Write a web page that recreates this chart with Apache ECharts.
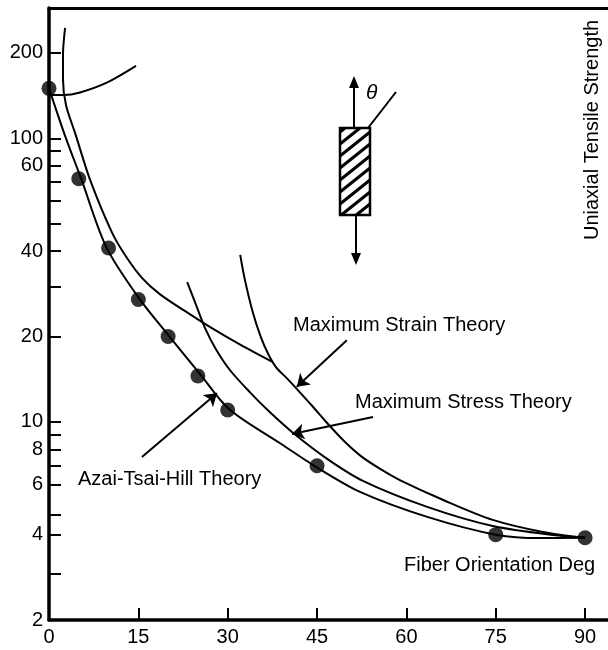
<!DOCTYPE html>
<html>
<head>
<meta charset="utf-8">
<script src="https://cdn.jsdelivr.net/npm/echarts@6/dist/echarts.min.js"></script>
<style>
  html, body { margin: 0; padding: 0; background: #fff; }
  #chart { width: 608px; height: 650px; }
</style>
</head>
<body>
<div id="chart"></div>
<script>
// Measured uniaxial tensile strength versus fibre angle (deg)
const testAngles   = [0, 5, 10, 15, 20, 25, 30, 45, 75, 90];
const testStrength = [150, 72, 41, 27, 20, 14.5, 11, 7, 4, 3.9];

// Azai-Tsai-Hill prediction
const tsaiHillAngles   = [0, 2.7, 5.4, 9.6, 15.1, 20.3, 25.5, 30.2, 38.8, 45, 52.2, 63.5, 75.2, 82.4, 90];
const tsaiHillStrength = [150, 102, 72, 41.4, 27.3, 19.9, 14.6, 11.1, 8.4, 6.9, 5.66, 4.62, 3.99, 3.89, 3.9];

// Longitudinal branch near 0 deg
const longAngles   = [0, 2.4, 5.2, 9.7, 14.6];
const longStrength = [142, 142, 145, 157, 180];

// Shear branch, running up towards 0 deg
const shearAngles   = [2.7, 2.35, 2.35, 2.85, 4.4, 6.9, 10.6, 13.1, 15.6, 18.6, 22.8, 27.0, 32.1, 37.4];
const shearStrength = [245, 197, 161, 131, 104, 71.3, 46.4, 37.8, 32.2, 28.2, 24.6, 21.6, 18.7, 16.3];

// Maximum strain theory (transverse branch)
const strainAngles   = [32.1, 32.9, 34.2, 35.6, 36.8, 38.1, 40.0, 41.6, 44.2, 46.7, 49.7, 52.55, 55.6, 58.9, 66.2, 74.5, 82.9, 90];
const strainStrength = [38.8, 31.6, 24.4, 19.8, 17.35, 15.6, 14.2, 13.06, 11.37, 9.9, 8.49, 7.52, 6.82, 6.23, 5.30, 4.51, 4.09, 3.9];

// Maximum stress theory (transverse branch)
const stressAngles   = [23.2, 24.7, 26.2, 28.0, 30.4, 33.75, 37.1, 41.0, 46.7, 52.7, 63.5, 74.5, 85.8, 90];
const stressStrength = [31.1, 25.8, 21.4, 18.07, 15.2, 12.7, 10.8, 9.13, 7.40, 6.19, 5.01, 4.29, 3.96, 3.9];

// Axis ticks and labels
const xTickValues  = [15, 30, 45, 60, 75, 90];
const xLabelValues = [0, 15, 30, 45, 60, 75, 90];
const yTickValues  = [200, 100, 90, 80, 70, 60, 50, 40, 30, 20, 10, 9, 8, 7, 6, 4.7, 4, 2.9];
const yLabelValues = [200, 100, 80, 40, 20, 10, 8, 6, 4, 2];
const yLabelTexts  = ['200', '100', '60', '40', '20', '10', '8', '6', '4', '2'];

// Callout arrows: [from angle, from strength, to angle, to strength]
const strainArrow   = [50.0, 19.4, 41.6, 13.3];
const stressArrow   = [54.4, 10.4, 40.8, 9.06];
const tsaiHillArrow = [15.6, 7.52, 28.2, 12.6];

const pairs = (xs, ys) => xs.map((x, i) => [x, ys[i]]);
const FONT = '"Liberation Sans", Arial, sans-serif';
const INK = '#000';

const curveStyle = { color: INK, width: 2 };
function curve(name, xs, ys, extra) {
  return Object.assign({
    name, type: 'line', data: pairs(xs, ys), smooth: 0.3,
    showSymbol: false, symbol: 'none', lineStyle: curveStyle, silent: true, z: 3
  }, extra || {});
}

function arrowLine(a) {
  return [{ coord: [a[0], a[1]] }, { coord: [a[2], a[3]] }];
}

// Specimen sketch: hatched coupon with load arrows and fibre-angle line
const box = { x: 340, y: 128, w: 30, h: 87 };
const hatch = [];
const slope = 0.8, step = 12;
for (let c = box.y + 4; c < box.y + box.h + slope * box.w; c += step) {
  const x0 = Math.max(box.x, box.x + (c - (box.y + box.h)) / slope);
  const x1 = Math.min(box.x + box.w, box.x + (c - box.y) / slope);
  if (x1 - x0 < 1) continue;
  hatch.push({
    type: 'line',
    shape: { x1: x0, y1: c - slope * (x0 - box.x), x2: x1, y2: c - slope * (x1 - box.x) },
    style: { stroke: INK, lineWidth: 3 }
  });
}

const specimen = [].concat(hatch, [
  { type: 'rect', shape: { x: box.x, y: box.y, width: box.w, height: box.h },
    style: { fill: 'none', stroke: INK, lineWidth: 2.5 } },
  { type: 'line', shape: { x1: 354, y1: box.y, x2: 354, y2: 86 }, style: { stroke: INK, lineWidth: 2 } },
  { type: 'polygon', shape: { points: [[349, 88], [359, 88], [354, 76]] }, style: { fill: INK } },
  { type: 'line', shape: { x1: 356, y1: box.y + box.h, x2: 356, y2: 256 }, style: { stroke: INK, lineWidth: 2 } },
  { type: 'polygon', shape: { points: [[351, 253], [361, 253], [356, 265]] }, style: { fill: INK } },
  { type: 'line', shape: { x1: 368, y1: box.y, x2: 396, y2: 92 }, style: { stroke: INK, lineWidth: 2 } },
  { type: 'text', x: 366, y: 93, style: { text: 'θ', fill: INK, font: 'italic 21px ' + FONT,
    textAlign: 'left', textVerticalAlign: 'middle' } }
]);

function label(text, x, y) {
  return { type: 'text', x, y, style: { text, fill: INK, font: '20px ' + FONT,
    textAlign: 'left', textVerticalAlign: 'middle' } };
}

const chart = echarts.init(document.getElementById('chart'), null, { renderer: 'canvas' });

chart.setOption({
  animation: false,
  backgroundColor: '#fff',
  grid: { left: 49, right: 0, top: 8, bottom: 30, containLabel: false, outerBoundsMode: 'none' },
  xAxis: [{
    type: 'value', min: 0, max: 93.85, position: 'bottom',
    axisLine: { show: true, onZero: false, lineStyle: { color: INK, width: 3.5 } },
    axisTick: { show: true, inside: true, length: 12, customValues: xTickValues,
      lineStyle: { color: INK, width: 2 } },
    axisLabel: { show: true, customValues: xLabelValues, margin: 7, color: INK,
      fontSize: 20, fontFamily: FONT },
    splitLine: { show: false }
  }, {
    type: 'value', min: 0, max: 93.85, position: 'top',
    axisLine: { show: true, onZero: false, lineStyle: { color: INK, width: 3 } },
    axisTick: { show: false }, axisLabel: { show: false }, splitLine: { show: false }
  }],
  yAxis: {
    type: 'log', logBase: 10, min: 2, max: 288,
    axisLine: { show: true, onZero: false, lineStyle: { color: INK, width: 3.5 } },
    axisTick: { show: true, inside: true, length: 12, customValues: yTickValues,
      lineStyle: { color: INK, width: 2 } },
    axisLabel: {
      show: true, customValues: yLabelValues, margin: 6, color: INK,
      fontSize: 20, fontFamily: FONT,
      formatter: (v) => {
        const i = yLabelValues.findIndex(t => Math.abs(t - v) < t * 1e-3);
        return i >= 0 ? yLabelTexts[i] : '';
      }
    },
    splitLine: { show: false }
  },
  series: [
    curve('Azai-Tsai-Hill Theory', tsaiHillAngles, tsaiHillStrength, {
      markLine: {
        silent: true, symbol: ['none', 'arrow'], symbolSize: 12,
        label: { show: false }, lineStyle: { color: INK, width: 2, type: 'solid' },
        itemStyle: { color: INK },
        data: [arrowLine(strainArrow), arrowLine(stressArrow), arrowLine(tsaiHillArrow)]
      }
    }),
    curve('Longitudinal', longAngles, longStrength),
    curve('Shear', shearAngles, shearStrength),
    curve('Maximum Strain Theory', strainAngles, strainStrength),
    curve('Maximum Stress Theory', stressAngles, stressStrength),
    {
      name: 'Test', type: 'scatter', data: pairs(testAngles, testStrength),
      symbol: 'circle', symbolSize: 15, itemStyle: { color: INK }, silent: true, z: 4
    }
  ],
  graphic: [
    label('Maximum Strain Theory', 293, 325),
    label('Maximum Stress Theory', 355, 402),
    label('Azai-Tsai-Hill Theory', 78, 479),
    label('Fiber Orientation Deg', 404, 565),
    { type: 'text', x: 592, y: 130, rotation: Math.PI / 2,
      style: { text: 'Uniaxial Tensile Strength', fill: INK, font: '20px ' + FONT,
        textAlign: 'center', textVerticalAlign: 'middle' } }
  ].concat(specimen)
});
</script>
</body>
</html>
